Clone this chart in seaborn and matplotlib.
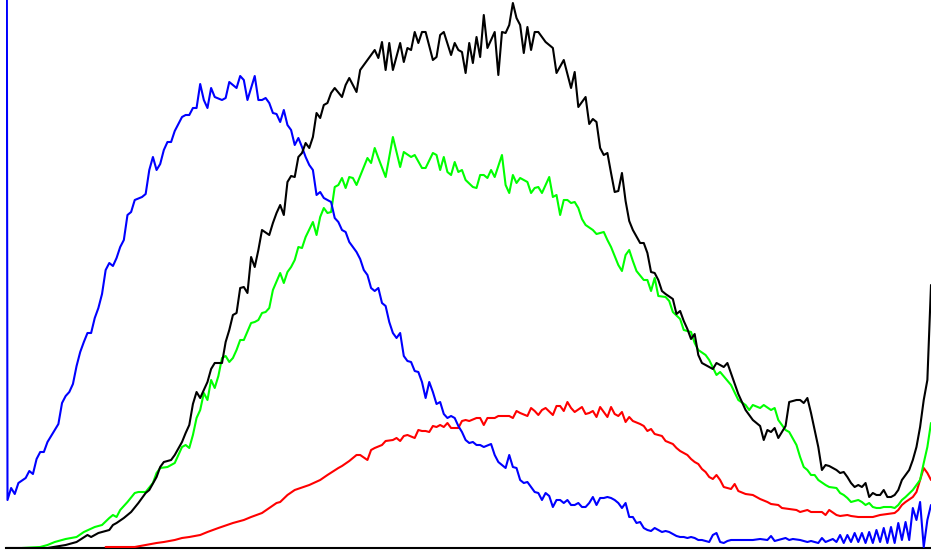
import matplotlib
matplotlib.use("Agg")
import matplotlib.pyplot as plt
import seaborn as sns
import pandas as pd

# Intensity histogram (bin 0-255), counts in arbitrary units
blue_bins = [0, 1, 2, 3, 4, 6, 7, 8, 9, 10, 11, 12, 13, 14, 15, 16, 17, 18, 19, 20, 21, 22, 23, 24, 25, 26, 27, 28, 29, 30,
             31, 32, 33, 34, 35, 36, 38, 39, 40, 41, 42, 43, 44, 45, 46, 47, 48, 49, 50, 51, 52, 53, 54, 55, 56, 57, 58, 60,
             61, 62, 63, 64, 65, 66, 67, 68, 69, 70, 71, 72, 73, 74, 75, 76, 77, 78, 79, 80, 81, 82, 83, 84, 85, 86, 87, 88,
             90, 91, 92, 93, 94, 95, 97, 98, 99, 100, 101, 102, 103, 104, 105, 106, 107, 108, 109, 110, 111, 112, 113, 114,
             115, 116, 117, 118, 119, 120, 121, 122, 123, 124, 125, 126, 127, 128, 129, 130, 131, 132, 134, 135, 136, 138,
             139, 140, 141, 142, 143, 144, 145, 146, 147, 148, 149, 150, 151, 152, 153, 154, 155, 156, 157, 158, 159, 160,
             161, 162, 163, 164, 165, 166, 167, 168, 169, 170, 171, 172, 173, 174, 175, 176, 177, 178, 179, 180, 181, 182,
             183, 184, 185, 186, 187, 188, 189, 190, 191, 192, 193, 194, 195, 196, 197, 198, 199, 200, 202, 204, 206, 208,
             210, 211, 212, 213, 215, 216, 217, 219, 221, 222, 224, 225, 226, 228, 229, 230, 231, 232, 233, 234, 235, 236,
             237, 238, 239, 240, 241, 242, 243, 244, 245, 246, 247, 248, 249, 250, 251, 252, 253, 254, 255]
blue_vals = [3000, 48, 60, 54, 65, 70, 77, 74, 89, 96, 96, 106, 112, 118, 124, 145, 152, 156, 164, 182, 196, 206, 215, 215, 230,
             240, 254, 278, 285, 282, 290, 301, 308, 333, 336, 348, 351, 354, 378, 391, 378, 384, 398, 406, 406, 417, 424,
             431, 433, 433, 440, 440, 464, 448, 440, 460, 451, 448, 450, 466, 463, 460, 472, 468, 448, 460, 472, 448, 448,
             450, 445, 435, 434, 426, 438, 423, 418, 403, 410, 401, 391, 383, 378, 353, 356, 350, 346, 330, 326, 318, 316,
             306, 296, 289, 278, 273, 260, 257, 260, 245, 242, 226, 215, 210, 215, 192, 187, 186, 177, 176, 166, 150, 166,
             156, 144, 146, 134, 130, 132, 130, 122, 116, 108, 105, 106, 103, 103, 101, 104, 93, 86, 80, 93, 81, 80, 68, 65,
             66, 61, 56, 55, 48, 55, 52, 41, 48, 48, 45, 48, 43, 43, 45, 41, 41, 45, 51, 43, 50, 50, 51, 50, 48, 45, 40, 45,
             31, 31, 25, 26, 20, 18, 17, 20, 18, 16, 17, 16, 14, 12, 11, 11, 10, 11, 10, 8, 8, 7, 6, 13, 15, 6, 5, 7, 8, 8,
             8, 8, 9, 8, 12, 7, 8, 10, 8, 9, 8, 6, 7, 5, 10, 6, 9, 6, 13, 5, 13, 6, 15, 6, 15, 5, 16, 5, 18, 6, 20, 5, 21, 5,
             25, 8, 26, 8, 40, 28, 46, 1, 28, 43]

red_bins = [28, 36, 39, 42, 44, 47, 49, 51, 54, 56, 59, 63, 66, 68, 71, 73, 75, 76, 78, 80, 84, 87, 89, 92, 93, 95, 97, 98,
            100, 101, 102, 104, 105, 107, 108, 109, 110, 111, 113, 114, 115, 116, 117, 118, 119, 120, 121, 122, 123, 124,
            125, 126, 127, 128, 130, 131, 132, 133, 135, 136, 139, 140, 141, 142, 144, 145, 146, 147, 148, 149, 151, 152,
            153, 154, 155, 156, 157, 159, 160, 161, 162, 163, 164, 165, 166, 167, 168, 169, 170, 171, 172, 173, 175, 176,
            177, 178, 179, 181, 182, 184, 185, 186, 188, 189, 190, 191, 192, 193, 194, 195, 196, 197, 198, 199, 200, 201,
            202, 204, 206, 207, 208, 210, 211, 213, 214, 216, 218, 219, 221, 222, 225, 226, 227, 229, 230, 232, 233, 235,
            237, 239, 241, 243, 245, 246, 247, 248, 250, 251, 252, 253, 254, 255]
red_vals = [1, 1, 3, 5, 6, 8, 10, 11, 13, 16, 20, 25, 28, 31, 35, 40, 45, 46, 53, 58, 63, 68, 73, 80, 82, 87, 93, 93, 88,
            98, 100, 103, 107, 108, 110, 107, 112, 113, 110, 118, 117, 117, 116, 122, 121, 123, 121, 125, 120, 120, 120,
            127, 128, 127, 130, 130, 123, 130, 130, 132, 132, 130, 137, 135, 132, 140, 137, 133, 138, 140, 133, 142, 142,
            137, 146, 140, 136, 141, 134, 135, 137, 131, 141, 136, 131, 141, 134, 132, 136, 126, 131, 127, 124, 122, 117,
            119, 114, 112, 107, 104, 100, 97, 93, 89, 86, 84, 79, 76, 71, 69, 73, 68, 61, 60, 59, 64, 57, 54, 53, 51, 49,
            46, 44, 43, 40, 39, 38, 36, 38, 36, 36, 33, 38, 33, 32, 33, 32, 31, 31, 31, 33, 34, 35, 38, 43, 46, 51, 56, 68,
            80, 75, 68]

green_bins = [5, 10, 12, 14, 17, 20, 22, 25, 27, 29, 30, 31, 32, 34, 36, 37, 39, 41, 42, 43, 45, 47, 48, 49, 50, 51, 52, 53,
              54, 55, 56, 57, 58, 59, 60, 61, 62, 63, 64, 65, 66, 68, 69, 70, 71, 72, 73, 74, 76, 77, 78, 79, 80, 81, 82,
              83, 85, 86, 87, 88, 89, 90, 91, 92, 93, 94, 95, 96, 97,
              100, 101, 102, 103, 105, 107, 109, 110, 112, 113, 115, 116, 118, 119, 120, 121, 122, 123, 124,
              125, 126, 127, 129, 130, 131, 132, 133, 134, 135, 137, 138, 139, 140, 141, 142, 144, 145, 146, 147, 148, 150,
              151, 152, 153, 154, 155, 156, 157, 158, 159, 160, 162, 163, 165, 166, 167, 169, 170, 171, 172, 173, 174, 176,
              177, 178, 179, 180, 182, 183, 184, 186, 187, 189, 190, 191, 193, 194, 196, 197, 200, 202, 204, 205, 206, 208,
              209, 211, 212, 213, 215, 216, 218, 219, 220, 221, 222, 223, 224, 226, 227, 229, 230, 231, 232, 233, 235, 236,
              237, 238, 239, 240, 241, 242, 244, 245, 246, 247, 248, 250, 251, 252, 253, 254, 255]
green_vals = [0, 1, 3, 6, 9, 11, 16, 21, 23, 30, 33, 31, 38, 46, 55, 56, 56, 65, 75, 80, 81, 85, 93, 101, 103, 100, 113, 130,
              138, 155, 148, 168, 160, 172, 190, 192, 186, 190, 198, 208, 208, 225, 226, 228, 235, 236, 240, 258, 275, 265,
              276, 281, 288, 301, 300, 311, 326, 313, 331, 340, 335, 336, 361, 363, 370, 360, 371, 370, 363,
              390, 385, 400, 390, 371, 411, 381, 396, 391, 393, 380, 380, 395,
              393, 378, 391, 376, 373, 386, 376, 378, 368, 361, 360, 373, 373, 370, 378, 371, 393, 363, 355, 373, 365, 370,
              366, 355, 360, 361, 355, 371, 351, 353, 333, 348, 348, 345, 346, 340, 329, 323, 318, 314, 316, 308, 301, 283,
              277, 293, 298, 287, 277, 268, 268, 257, 270, 252, 251, 247, 236, 229, 218, 216, 205, 198, 193, 188, 173, 176,
              163, 148, 143, 138, 143, 140, 143, 138, 140, 128, 118, 116, 103, 91, 81, 78, 73, 73, 68, 63, 61, 60, 55, 53,
              50, 46, 48, 46, 43, 45, 41, 40, 40, 41, 41, 40, 43, 48, 51, 58, 63, 68, 85, 101, 125]

black_bins = [0, 12, 17, 20, 23, 24, 26, 29, 30, 31, 33, 35, 37, 39, 40, 42, 43, 44, 46, 47, 49, 50, 51, 52, 53, 54, 56, 57,
              58, 60, 61, 62, 63, 64, 65, 66, 67, 68, 69, 70, 71, 73, 74, 75, 76, 77, 78, 79, 80, 81, 82, 83, 84, 85, 86,
              87, 88, 89, 90, 91, 93, 94,
              95, 97, 98, 100, 102, 103, 104, 105, 106, 107, 109, 110,
              111, 112, 113, 114, 115, 116, 118, 119, 120, 121, 123, 124, 125, 126, 127, 128, 129, 130, 131, 132, 133, 135,
              136, 137, 138, 139, 140, 141, 142, 143, 144, 145, 146, 147, 149, 151, 152, 154, 156, 157, 158, 160, 161, 162,
              163, 164, 165, 166, 167, 168, 169, 170, 171, 172, 173, 175, 176, 177, 178, 179, 180, 181, 182, 184, 185, 186,
              187, 188, 189, 190, 191, 192, 195, 196, 198, 199, 202, 204, 206, 208, 209, 210, 211, 212, 213, 215, 216, 218,
              219, 220, 221, 222, 223, 224, 225, 226, 227, 228, 229, 230, 231, 232, 233, 234, 235, 236, 237, 238, 239, 240,
              241, 242, 243, 244, 245, 246, 247, 248, 249, 250, 251, 252, 253, 254, 255]
black_vals = [0, 0, 3, 6, 13, 11, 15, 18, 23, 25, 30, 36, 45, 55, 58, 71, 81, 86, 88, 93, 106, 115, 123, 144, 156, 150, 166,
              179, 185, 185, 206, 218, 233, 235, 260, 261, 255, 291, 281, 298, 318, 313, 325, 335, 343, 333, 366, 372, 371,
              391, 395, 405, 400, 411, 435, 430, 443, 445, 455, 460, 451, 463,
              470, 456, 478, 488, 498, 490, 506, 478, 505, 478, 505, 486,
              500, 498, 516, 505, 516, 516, 488, 491, 513, 516, 493, 505, 498, 496, 475, 505, 485, 511,
              491, 533, 500, 516, 473, 516, 515, 523, 545, 530, 523, 495, 521, 498, 516, 516, 506, 500, 475, 488, 460, 476,
              441, 451, 424, 429, 426, 400, 393, 395, 375, 356, 357, 375, 347, 327, 318, 305, 305, 295, 276, 275, 268, 257,
              254, 249, 234, 237, 227, 219, 209, 214, 193, 185, 179, 185, 181, 185, 154, 138, 128, 122, 108, 118, 116, 120,
              110, 122, 146, 148, 148, 145, 150, 135, 118, 101, 78, 83, 82, 80, 78, 75, 76, 71, 65, 61, 63, 61, 65, 51, 55,
              53, 53, 58, 51, 51, 53, 58, 68, 73, 78, 88, 101, 121, 148, 168, 263]

series_names = ["red", "green", "blue", "luminance"]
series_colors = ["#ff0000", "#00ff00", "#0000ff", "#000000"]

frames = []
for name, b, v in [("red", red_bins, red_vals), ("green", green_bins, green_vals),
                   ("blue", blue_bins, blue_vals), ("luminance", black_bins, black_vals)]:
    frames.append(pd.DataFrame({"level": b, "count": v, "channel": name}))
df = pd.concat(frames, ignore_index=True)

sns.set_style("white")
fig = plt.figure(figsize=(9.31, 5.51), dpi=100)
ax = fig.add_axes([6 / 931, 3 / 551, 925 / 931, 548 / 551])
sns.lineplot(data=df, x="level", y="count", hue="channel", hue_order=series_names,
             palette=dict(zip(series_names, series_colors)), estimator=None, sort=False,
             linewidth=1.5, legend=False, ax=ax)
for line in ax.lines:
    line.set_zorder(3)
ax.set_xlim(0.59, 255)
ax.set_ylim(0, 548)
ax.set_xlabel("")
ax.set_ylabel("")
ax.set_xticks([])
ax.set_yticks([])
for s in ["left", "top", "right"]:
    ax.spines[s].set_visible(False)
ax.spines["bottom"].set_color("black")
ax.spines["bottom"].set_linewidth(1.5)
ax.spines["bottom"].set_zorder(2)
fig.savefig("out.png", dpi=100)
